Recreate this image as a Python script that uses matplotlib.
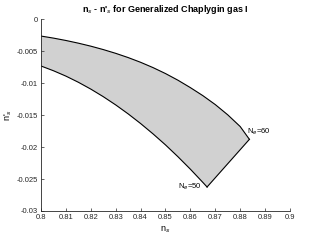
import matplotlib
matplotlib.use('Agg')
import matplotlib.pyplot as plt

# upper edge (ends at N_e = 60) and lower edge (ends at N_e = 50)
ns_top = [0.800, 0.805, 0.810, 0.815, 0.820, 0.825, 0.830, 0.835, 0.840,
          0.845, 0.850, 0.855, 0.860, 0.865, 0.870, 0.875, 0.880, 0.8837]
nps_top = [-0.00266, -0.00298, -0.00335, -0.00377, -0.00424, -0.00477,
           -0.00536, -0.00602, -0.00676, -0.00759, -0.00852, -0.00956,
           -0.01072, -0.01197, -0.01337, -0.01497, -0.01680, -0.01880]
ns_bot = [0.800, 0.805, 0.810, 0.815, 0.820, 0.825, 0.830, 0.835, 0.840,
          0.845, 0.850, 0.855, 0.860, 0.865, 0.8667]
nps_bot = [-0.00734, -0.00808, -0.00892, -0.00988, -0.01095, -0.01213,
           -0.01342, -0.01482, -0.01633, -0.01795, -0.01967, -0.02152,
           -0.02347, -0.02553, -0.02625]

xticks = [0.8, 0.81, 0.82, 0.83, 0.84, 0.85, 0.86, 0.87, 0.88, 0.89, 0.9]
yticks = [-0.03, -0.025, -0.02, -0.015, -0.01, -0.005, 0]

plt.rcParams['font.family'] = ['Liberation Sans', 'DejaVu Sans']

fig = plt.figure(figsize=(3.21, 2.41), dpi=100)
ax = fig.add_axes([0.1277, 0.1245, 0.7757, 0.7965])

px = ns_top + ns_bot[::-1]
py = nps_top + nps_bot[::-1]
ax.fill(px, py, color='#d1d1d1', lw=0)
ax.plot(ns_top, nps_top, color='k', lw=0.8)
ax.plot(ns_bot, nps_bot, color='k', lw=0.8)
ax.plot([ns_top[-1], ns_bot[-1]], [nps_top[-1], nps_bot[-1]], color='k', lw=0.8)

ax.text(ns_top[-1] - 0.0009, nps_top[-1] + 0.0004, 'N$_e$=60', fontsize=5.5,
        ha='left', va='bottom')
ax.text(ns_bot[-1] - 0.002, nps_bot[-1] + 0.0001, 'N$_e$=50', fontsize=5.5,
        ha='right', va='center')

ax.set_xlim(0.8, 0.9)
ax.set_ylim(-0.03, 0)
ax.set_xticks(xticks)
ax.set_xticklabels([('%g' % t) for t in xticks])
ax.set_yticks(yticks)
ax.set_yticklabels([('%g' % t) for t in yticks])
ax.tick_params(direction='in', length=2.5, width=0.5, labelsize=5.5,
               colors='#262626', pad=2)
for s in ['top', 'right']:
    ax.spines[s].set_visible(False)
for s in ['left', 'bottom']:
    ax.spines[s].set_linewidth(0.6)
    ax.spines[s].set_color('#262626')

ax.set_xlabel('n$_s$', fontsize=6.5, labelpad=3)
ax.set_ylabel("n'$_s$", fontsize=6.5, labelpad=2)
ax.set_title("n$_s$ - n'$_s$ for Generalized Chaplygin gas I", fontsize=6.5,
             fontweight='bold', pad=5)

fig.savefig('out.png', dpi=100)
